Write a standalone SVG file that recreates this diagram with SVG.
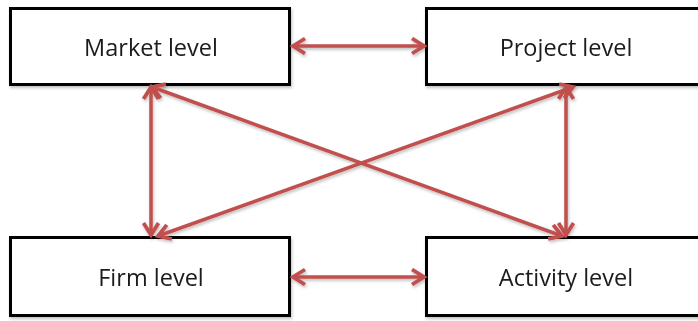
<svg xmlns="http://www.w3.org/2000/svg" width="698" height="321" viewBox="0 0 698 321">
<defs>
<style>
.box{fill:#fff;stroke:#000;stroke-width:3}
.lbl{font-family:"Open Sans","Noto Sans","Liberation Sans",sans-serif;font-size:23.5px;fill:#1a1a1a;text-anchor:middle}
.con{stroke:#C0504D;stroke-width:3.5;fill:none;marker-start:url(#ah);marker-end:url(#ah)}
</style>
<marker id="ah" markerUnits="userSpaceOnUse" markerWidth="20" markerHeight="20" refX="14" refY="9" orient="auto-start-reverse" viewBox="0 0 20 20">
<path d="M2,1.5 L14,9 L2,16.5" fill="none" stroke="#C0504D" stroke-width="3.8" stroke-linejoin="miter"/>
</marker>
<filter id="sh" x="-10%" y="-10%" width="120%" height="130%">
<feDropShadow dx="1" dy="2" stdDeviation="1.5" flood-color="#000" flood-opacity="0.25"/>
</filter>
</defs>
<g id="market" filter="url(#sh)">
<rect class="box" x="10.5" y="8.5" width="279" height="76"/>
<text class="lbl" x="151" y="56">Market level</text>
</g>
<g id="project" filter="url(#sh)">
<rect class="box" x="426.5" y="8.5" width="290" height="76"/>
<text class="lbl" x="566" y="56">Project level</text>
</g>
<g id="firm" filter="url(#sh)">
<rect class="box" x="10.5" y="237.5" width="279" height="78"/>
<text class="lbl" x="151" y="286">Firm level</text>
</g>
<g id="activity" filter="url(#sh)">
<rect class="box" x="426.5" y="237.5" width="290" height="78"/>
<text class="lbl" x="566" y="286">Activity level</text>
</g>
<g id="connectors" filter="url(#sh)">
<line class="con" x1="293" y1="46" x2="424" y2="46"/>
<line class="con" x1="293" y1="277" x2="424" y2="277"/>
<line class="con" x1="151" y1="87" x2="151" y2="235"/>
<line class="con" x1="566" y1="87" x2="566" y2="235"/>
<line class="con" x1="152" y1="87" x2="562" y2="236"/>
<line class="con" x1="158" y1="236" x2="573" y2="87"/>
</g>
</svg>
